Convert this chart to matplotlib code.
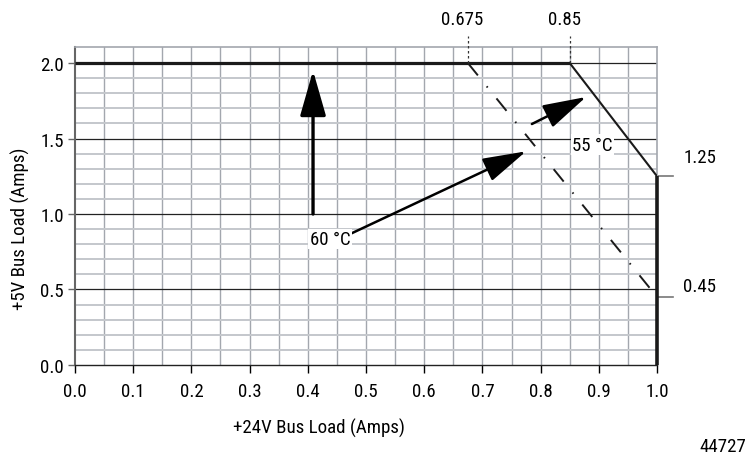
import numpy as np
import matplotlib.pyplot as plt

plt.rcParams['font.family'] = ['Roboto Condensed', 'DejaVu Sans']
FS = 13.6

# derating curves
x_55 = [0.0, 0.85, 1.0, 1.0]
y_55 = [2.0, 2.0, 1.25, 0.0]
x_60 = [0.675, 1.0]
y_60 = [2.0, 0.45]

x_ticks = [0.0, 0.1, 0.2, 0.3, 0.4, 0.5, 0.6, 0.7, 0.8, 0.9, 1.0]
y_ticks = [0.0, 0.5, 1.0, 1.5, 2.0]
top_marks = [0.675, 0.85]
top_labels = ['0.675', '0.85']
right_marks = [1.25, 0.45]
right_labels = ['1.25', '0.45']

fig = plt.figure(figsize=(7.52, 4.56), dpi=100)
ax = fig.add_axes([0.0997, 0.1974, 0.7740, 0.6973])
ax.set_xlim(0, 1.0)
ax.set_ylim(0, 2.106)

gc = '#a3a7ae'
for xv in np.arange(0.05, 1.0, 0.05):
    ax.axvline(xv, color=gc, lw=1.0, zorder=0)
for yv in np.arange(0.1, 2.1, 0.1):
    if round(yv * 10) % 5 == 0:
        ax.axhline(yv, color='#222222', lw=0.9, zorder=0.5)
    else:
        ax.axhline(yv, color='#c4c7cc', lw=1.4, zorder=0)

ax.set_xticks(x_ticks)
ax.set_yticks(y_ticks)
ax.set_xticklabels(['%.1f' % v for v in x_ticks])
ax.set_yticklabels(['%.1f' % v for v in y_ticks])
ax.tick_params(axis='x', length=6, width=1.0, pad=6, labelsize=FS, colors='black')
ax.tick_params(axis='y', length=5, width=1.0, pad=3, labelsize=FS, color='#666666')

for s in ['top', 'right']:
    ax.spines[s].set_color(gc)
    ax.spines[s].set_linewidth(1.2)
ax.spines['left'].set_color('#666666')
ax.spines['left'].set_linewidth(1.5)
ax.spines['bottom'].set_color('#222222')
ax.spines['bottom'].set_linewidth(1.0)

# thick solid curve
ax.plot(x_55[:2], y_55[:2], color='#1a1a1a', lw=2.3, zorder=3, solid_capstyle='butt')
ax.plot(x_55[1:3], y_55[1:3], color='#1a1a1a', lw=1.5, zorder=3)
ax.plot(x_55[2:], y_55[2:], color='#1a1a1a', lw=2.6, zorder=3, clip_on=False, solid_capstyle='butt')
# dash-dot curve
ax.plot(x_60, y_60, color='#1a1a1a', lw=1.4, linestyle=(0, (8.2, 7.2, 0.8, 7.2)), zorder=3)

# dashed markers above the plot
for xv, lab in zip(top_marks, top_labels):
    ax.plot([xv, xv], [2.0, 2.18], color='#333333', lw=0.9, linestyle=(0, (2, 2)),
            clip_on=False, zorder=3)
    ax.annotate(lab, (xv, 2.18), xytext=(-4, 6), textcoords='offset points',
                ha='center', va='bottom', fontsize=FS, annotation_clip=False)

# short ticks on the right
for yv, lab, off in zip(right_marks, right_labels, [14, 8]):
    ax.plot([1.0, 1.028], [yv, yv], color='#777777', lw=1.2, clip_on=False, zorder=2)
    ax.annotate(lab, (1.0, yv), xytext=(19, off), textcoords='offset points',
                ha='left', va='center', fontsize=FS, annotation_clip=False)

# arrows
ax.annotate('', xy=(0.409, 1.95), xytext=(0.409, 1.0),
            arrowprops=dict(arrowstyle='-|>,head_length=1.4,head_width=0.4',
                            mutation_scale=20, lw=2.4, color='black',
                            shrinkA=0, shrinkB=0), zorder=4)
ax.annotate('', xy=(0.775, 1.415), xytext=(0.473, 0.868),
            arrowprops=dict(arrowstyle='-|>,head_length=1.35,head_width=0.38',
                            mutation_scale=20, lw=1.8, color='black',
                            shrinkA=0, shrinkB=0), zorder=4)
ax.annotate('', xy=(0.878, 1.775), xytext=(0.785, 1.596),
            arrowprops=dict(arrowstyle='-|>,head_length=1.35,head_width=0.38',
                            mutation_scale=20, lw=1.8, color='black',
                            shrinkA=0, shrinkB=0), zorder=4)

ax.text(0.438, 0.834, '60 °C', ha='center', va='center', fontsize=FS, zorder=5,
        bbox=dict(facecolor='white', edgecolor='none', pad=1.0))
ax.text(0.889, 1.46, '55 °C', ha='center', va='center', fontsize=FS, zorder=5,
        bbox=dict(facecolor='white', edgecolor='none', pad=1.0))

ax.set_ylabel('+5V Bus Load (Amps)', fontsize=FS, va='center', ha='center')
ax.set_xlabel('+24V Bus Load (Amps)', fontsize=FS, va='center', ha='center')
ax.xaxis.set_label_coords(0.419, -0.195)
ax.yaxis.set_label_coords(-0.0945, 0.431)

fig.text(0.993, 0.02, '44727', ha='right', va='center', fontsize=FS)

fig.savefig('out.png', dpi=100)
